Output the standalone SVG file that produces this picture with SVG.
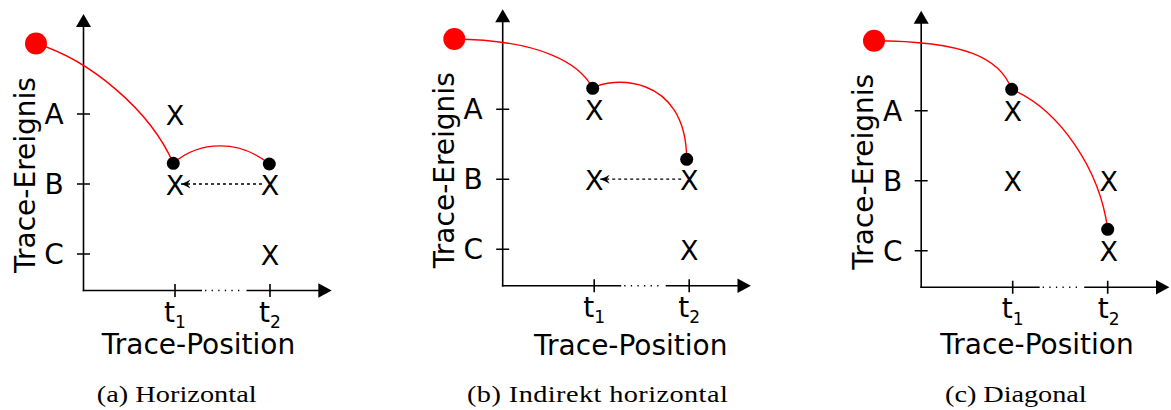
<svg xmlns="http://www.w3.org/2000/svg" width="1171" height="410" viewBox="0 0 1171 410">
  <defs>
    <style>
      .ax { stroke: #000; stroke-width: 1.6; fill: none; }
      .dots { stroke: #000; stroke-width: 1.4; stroke-dasharray: 1.3 5.3; fill: none; }
      .ah { fill: #000; stroke: none; }
      .lbl { font-family: "DejaVu Sans", "Liberation Sans", sans-serif; font-size: 28px; fill: #000; text-anchor: middle; }
      .xm { font-family: "DejaVu Sans", "Liberation Sans", sans-serif; font-size: 27px; fill: #000; text-anchor: middle; }
      .cap { font-family: "Liberation Serif", "DejaVu Serif", serif; font-size: 23px; fill: #000; }
      .red { stroke: #ff0000; stroke-width: 1.4; fill: none; }
      .start { fill: #ff0000; }
      .dot { fill: #000; }
      .dash { stroke: #000; stroke-width: 1.3; stroke-dasharray: 3 3; fill: none; }
    </style>
    <marker id="arr" markerUnits="userSpaceOnUse" markerWidth="14" markerHeight="12" viewBox="-11 -6 14 12" refX="0" refY="0" orient="auto">
      <path d="M0,0 Q-5,-1.5 -9.5,-4.5 L-6.5,0 L-9.5,4.5 Q-5,1.5 0,0 Z" fill="#000"/>
    </marker>
  </defs>

  <!-- Panel (a) -->
  <g id="panel-a">
    <g id="axes-a">
      <line class="ax" x1="83.5" y1="26" x2="83.5" y2="291.3"/>
      <path class="ah" d="M83.5,14 L76,27 L91,27 Z"/>
      <line class="ax" x1="82.7" y1="290.5" x2="202" y2="290.5"/>
      <line class="dots" x1="205" y1="290.5" x2="242" y2="290.5"/>
      <line class="ax" x1="246.5" y1="290.5" x2="319" y2="290.5"/>
      <path class="ah" d="M331.7,290.5 L318.3,283.2 L318.3,297.8 Z"/>
      <path class="ax" d="M77,114H90M77,184H90M77,254H90M175,284V297M270,284V297"/>
      <text class="lbl" x="54" y="124">A</text>
      <text class="lbl" x="54" y="194">B</text>
      <text class="lbl" x="54" y="264">C</text>
      <text class="lbl" transform="translate(34.5,175) rotate(-90)">Trace-Ereignis</text>
      <text class="lbl" x="175" y="321.7" font-size="27">t<tspan font-size="17" dy="6.6">1</tspan></text>
      <text class="lbl" x="270" y="321.7" font-size="27">t<tspan font-size="17" dy="6.6">2</tspan></text>
    </g>
    <g id="connectors-a">
      <path class="red" d="M36,43.5 C90,60 150,110 173.3,163.3"/>
      <path class="red" d="M173.3,163.3 C200,140 240,140 269.3,164"/>
      <line class="dash" x1="262" y1="184" x2="181" y2="184" marker-end="url(#arr)"/>
    </g>
    <g id="start-a"><circle class="start" cx="36" cy="43.5" r="11"/></g>
    <g id="dot-a1"><circle class="dot" cx="173.3" cy="163.3" r="6.5"/></g>
    <g id="dot-a2"><circle class="dot" cx="269.3" cy="164" r="6.5"/></g>
    <g id="xa-t1A"><text class="xm" x="175" y="124.5">X</text></g>
    <g id="xa-t1B"><text class="xm" x="175" y="194.5">X</text></g>
    <g id="xa-t2B"><text class="xm" x="270" y="194.5">X</text></g>
    <g id="xa-t2C"><text class="xm" x="270" y="264.5">X</text></g>
  </g>

  <!-- Panel (b) -->
  <g id="panel-b" transform="translate(419.2,-4.8)">
    <g id="axes-b">
      <line class="ax" x1="83.5" y1="26" x2="83.5" y2="291.3"/>
      <path class="ah" d="M83.5,14 L76,27 L91,27 Z"/>
      <line class="ax" x1="82.7" y1="290.5" x2="202" y2="290.5"/>
      <line class="dots" x1="205" y1="290.5" x2="242" y2="290.5"/>
      <line class="ax" x1="246.5" y1="290.5" x2="319" y2="290.5"/>
      <path class="ah" d="M331.7,290.5 L318.3,283.2 L318.3,297.8 Z"/>
      <path class="ax" d="M77,114H90M77,184H90M77,254H90M175,284V297M270,284V297"/>
      <text class="lbl" x="54" y="124">A</text>
      <text class="lbl" x="54" y="194">B</text>
      <text class="lbl" x="54" y="264">C</text>
      <text class="lbl" transform="translate(34.5,175) rotate(-90)">Trace-Ereignis</text>
      <text class="lbl" x="175" y="321.7" font-size="27">t<tspan font-size="17" dy="6.6">1</tspan></text>
      <text class="lbl" x="270" y="321.7" font-size="27">t<tspan font-size="17" dy="6.6">2</tspan></text>
    </g>
    <g id="connectors-b">
      <path class="red" d="M35.1,43.8 C120.8,44.8 160.8,67.8 173.5,93.1"/>
      <path class="red" d="M173.5,93.1 C190,82 267,77 267.5,164.1"/>
      <line class="dash" x1="262" y1="184" x2="181" y2="184" marker-end="url(#arr)"/>
    </g>
    <g id="start-b"><circle class="start" cx="35.1" cy="43.8" r="11"/></g>
    <g id="dot-b1"><circle class="dot" cx="173.5" cy="93.1" r="6.5"/></g>
    <g id="dot-b2"><circle class="dot" cx="267.5" cy="164.1" r="6.5"/></g>
    <g id="xb-t1A"><text class="xm" x="175" y="124.5">X</text></g>
    <g id="xb-t1B"><text class="xm" x="175" y="194.5">X</text></g>
    <g id="xb-t2B"><text class="xm" x="270" y="194.5">X</text></g>
    <g id="xb-t2C"><text class="xm" x="270" y="264.5">X</text></g>
  </g>

  <!-- Panel (c) -->
  <g id="panel-c" transform="translate(837.7,-3.2)">
    <g id="axes-c">
      <line class="ax" x1="83.5" y1="26" x2="83.5" y2="291.3"/>
      <path class="ah" d="M83.5,14 L76,27 L91,27 Z"/>
      <line class="ax" x1="82.7" y1="290.5" x2="202" y2="290.5"/>
      <line class="dots" x1="205" y1="290.5" x2="242" y2="290.5"/>
      <line class="ax" x1="246.5" y1="290.5" x2="319" y2="290.5"/>
      <path class="ah" d="M331.7,290.5 L318.3,283.2 L318.3,297.8 Z"/>
      <path class="ax" d="M77,114H90M77,184H90M77,254H90M175,284V297M270,284V297"/>
      <text class="lbl" x="55" y="124">A</text>
      <text class="lbl" x="55" y="194">B</text>
      <text class="lbl" x="55" y="264">C</text>
      <text class="lbl" transform="translate(35.3,175) rotate(-90)">Trace-Ereignis</text>
      <text class="lbl" x="175" y="321.7" font-size="27">t<tspan font-size="17" dy="6.6">1</tspan></text>
      <text class="lbl" x="271" y="321.7" font-size="27">t<tspan font-size="17" dy="6.6">2</tspan></text>
    </g>
    <g id="connectors-c">
      <path class="red" d="M36.3,43.9 C127.3,44.2 162.3,61.2 174,92.5"/>
      <path class="red" d="M174,92.5 C222.3,113.2 262.3,173.2 270,232.5"/>
    </g>
    <g id="start-c"><circle class="start" cx="36.3" cy="43.9" r="11"/></g>
    <g id="dot-c1"><circle class="dot" cx="174" cy="92.5" r="6.5"/></g>
    <g id="dot-c2"><circle class="dot" cx="270" cy="232.5" r="6.5"/></g>
    <g id="xc-t1A"><text class="xm" x="175" y="124.5">X</text></g>
    <g id="xc-t1B"><text class="xm" x="175" y="194.5">X</text></g>
    <g id="xc-t2B"><text class="xm" x="271" y="194.5">X</text></g>
    <g id="xc-t2C"><text class="xm" x="271" y="264.5">X</text></g>
  </g>

  <!-- Axis titles and captions -->
  <g id="titles">
    <text class="lbl" x="198.5" y="354">Trace-Position</text>
    <text class="lbl" x="630.8" y="355">Trace-Position</text>
    <text class="lbl" x="1037" y="354">Trace-Position</text>
    <text class="cap" transform="translate(96.7,401.5) scale(1.23,1)" textLength="130" lengthAdjust="spacing">(a) Horizontal</text>
    <text class="cap" transform="translate(467,401.5) scale(1.23,1)" textLength="212" lengthAdjust="spacing">(b) Indirekt horizontal</text>
    <text class="cap" transform="translate(945,401.5) scale(1.23,1)" textLength="115.2" lengthAdjust="spacing">(c) Diagonal</text>
  </g>
</svg>
